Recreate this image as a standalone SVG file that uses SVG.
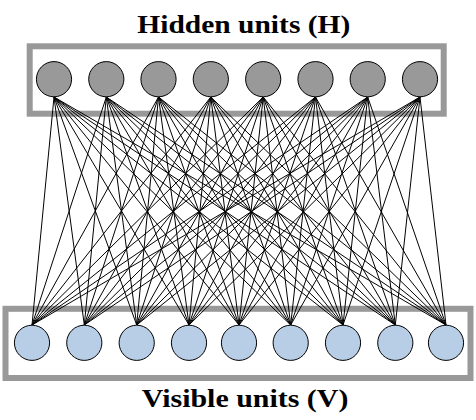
<svg xmlns="http://www.w3.org/2000/svg" width="476" height="420" viewBox="0 0 476 420">
<style>
.box{fill:none;stroke:#999999;stroke-width:6}
.hid{fill:#999999;stroke:#000;stroke-width:1}
.vis{fill:#b8cee6;stroke:#000;stroke-width:1}
.title{font-family:"Liberation Serif","Times New Roman",serif;font-weight:bold;font-size:26px;fill:#000}
#connectors line{stroke:#000;stroke-width:1}
</style>
<rect width="476" height="420" fill="#fff"/>
<g id="hidden-layer">
<rect class="box" x="29.7" y="46.3" width="414" height="67.4"/>
<text class="title" x="137.3" y="32.7" textLength="213" lengthAdjust="spacingAndGlyphs">Hidden units (H)</text>
</g>
<g id="visible-layer">
<rect class="box" x="5.5" y="308.8" width="465" height="69.2"/>
<text class="title" x="141.7" y="407.3" textLength="206.7" lengthAdjust="spacingAndGlyphs">Visible units (V)</text>
</g>
<g id="connectors">
<line x1="54" y1="97" x2="32" y2="325"/><line x1="54" y1="97" x2="84.3" y2="325"/><line x1="54" y1="97" x2="136.7" y2="325"/><line x1="54" y1="97" x2="189" y2="325"/><line x1="54" y1="97" x2="239" y2="325"/><line x1="54" y1="97" x2="290.7" y2="325"/><line x1="54" y1="97" x2="343" y2="325"/><line x1="54" y1="97" x2="395.3" y2="325"/><line x1="54" y1="97" x2="446" y2="325"/>
<line x1="106.3" y1="97" x2="32" y2="325"/><line x1="106.3" y1="97" x2="84.3" y2="325"/><line x1="106.3" y1="97" x2="136.7" y2="325"/><line x1="106.3" y1="97" x2="189" y2="325"/><line x1="106.3" y1="97" x2="239" y2="325"/><line x1="106.3" y1="97" x2="290.7" y2="325"/><line x1="106.3" y1="97" x2="343" y2="325"/><line x1="106.3" y1="97" x2="395.3" y2="325"/><line x1="106.3" y1="97" x2="446" y2="325"/>
<line x1="158.5" y1="97" x2="32" y2="325"/><line x1="158.5" y1="97" x2="84.3" y2="325"/><line x1="158.5" y1="97" x2="136.7" y2="325"/><line x1="158.5" y1="97" x2="189" y2="325"/><line x1="158.5" y1="97" x2="239" y2="325"/><line x1="158.5" y1="97" x2="290.7" y2="325"/><line x1="158.5" y1="97" x2="343" y2="325"/><line x1="158.5" y1="97" x2="395.3" y2="325"/><line x1="158.5" y1="97" x2="446" y2="325"/>
<line x1="210.8" y1="97" x2="32" y2="325"/><line x1="210.8" y1="97" x2="84.3" y2="325"/><line x1="210.8" y1="97" x2="136.7" y2="325"/><line x1="210.8" y1="97" x2="189" y2="325"/><line x1="210.8" y1="97" x2="239" y2="325"/><line x1="210.8" y1="97" x2="290.7" y2="325"/><line x1="210.8" y1="97" x2="343" y2="325"/><line x1="210.8" y1="97" x2="395.3" y2="325"/><line x1="210.8" y1="97" x2="446" y2="325"/>
<line x1="263.2" y1="97" x2="32" y2="325"/><line x1="263.2" y1="97" x2="84.3" y2="325"/><line x1="263.2" y1="97" x2="136.7" y2="325"/><line x1="263.2" y1="97" x2="189" y2="325"/><line x1="263.2" y1="97" x2="239" y2="325"/><line x1="263.2" y1="97" x2="290.7" y2="325"/><line x1="263.2" y1="97" x2="343" y2="325"/><line x1="263.2" y1="97" x2="395.3" y2="325"/><line x1="263.2" y1="97" x2="446" y2="325"/>
<line x1="315.5" y1="97" x2="32" y2="325"/><line x1="315.5" y1="97" x2="84.3" y2="325"/><line x1="315.5" y1="97" x2="136.7" y2="325"/><line x1="315.5" y1="97" x2="189" y2="325"/><line x1="315.5" y1="97" x2="239" y2="325"/><line x1="315.5" y1="97" x2="290.7" y2="325"/><line x1="315.5" y1="97" x2="343" y2="325"/><line x1="315.5" y1="97" x2="395.3" y2="325"/><line x1="315.5" y1="97" x2="446" y2="325"/>
<line x1="367.7" y1="97" x2="32" y2="325"/><line x1="367.7" y1="97" x2="84.3" y2="325"/><line x1="367.7" y1="97" x2="136.7" y2="325"/><line x1="367.7" y1="97" x2="189" y2="325"/><line x1="367.7" y1="97" x2="239" y2="325"/><line x1="367.7" y1="97" x2="290.7" y2="325"/><line x1="367.7" y1="97" x2="343" y2="325"/><line x1="367.7" y1="97" x2="395.3" y2="325"/><line x1="367.7" y1="97" x2="446" y2="325"/>
<line x1="420" y1="97" x2="32" y2="325"/><line x1="420" y1="97" x2="84.3" y2="325"/><line x1="420" y1="97" x2="136.7" y2="325"/><line x1="420" y1="97" x2="189" y2="325"/><line x1="420" y1="97" x2="239" y2="325"/><line x1="420" y1="97" x2="290.7" y2="325"/><line x1="420" y1="97" x2="343" y2="325"/><line x1="420" y1="97" x2="395.3" y2="325"/><line x1="420" y1="97" x2="446" y2="325"/>
</g>
<g id="h1"><circle class="hid" cx="54" cy="79.2" r="17.6"/></g>
<g id="h2"><circle class="hid" cx="106.3" cy="79.2" r="17.6"/></g>
<g id="h3"><circle class="hid" cx="158.5" cy="79.2" r="17.6"/></g>
<g id="h4"><circle class="hid" cx="210.8" cy="79.2" r="17.6"/></g>
<g id="h5"><circle class="hid" cx="263.2" cy="79.2" r="17.6"/></g>
<g id="h6"><circle class="hid" cx="315.5" cy="79.2" r="17.6"/></g>
<g id="h7"><circle class="hid" cx="367.7" cy="79.2" r="17.6"/></g>
<g id="h8"><circle class="hid" cx="420" cy="79.2" r="17.6"/></g>
<g id="v1"><circle class="vis" cx="32" cy="342.8" r="17.6"/></g>
<g id="v2"><circle class="vis" cx="84.3" cy="342.8" r="17.6"/></g>
<g id="v3"><circle class="vis" cx="136.7" cy="342.8" r="17.6"/></g>
<g id="v4"><circle class="vis" cx="189" cy="342.8" r="17.6"/></g>
<g id="v5"><circle class="vis" cx="239" cy="342.8" r="17.6"/></g>
<g id="v6"><circle class="vis" cx="290.7" cy="342.8" r="17.6"/></g>
<g id="v7"><circle class="vis" cx="343" cy="342.8" r="17.6"/></g>
<g id="v8"><circle class="vis" cx="395.3" cy="342.8" r="17.6"/></g>
<g id="v9"><circle class="vis" cx="446" cy="342.8" r="17.6"/></g>
</svg>
